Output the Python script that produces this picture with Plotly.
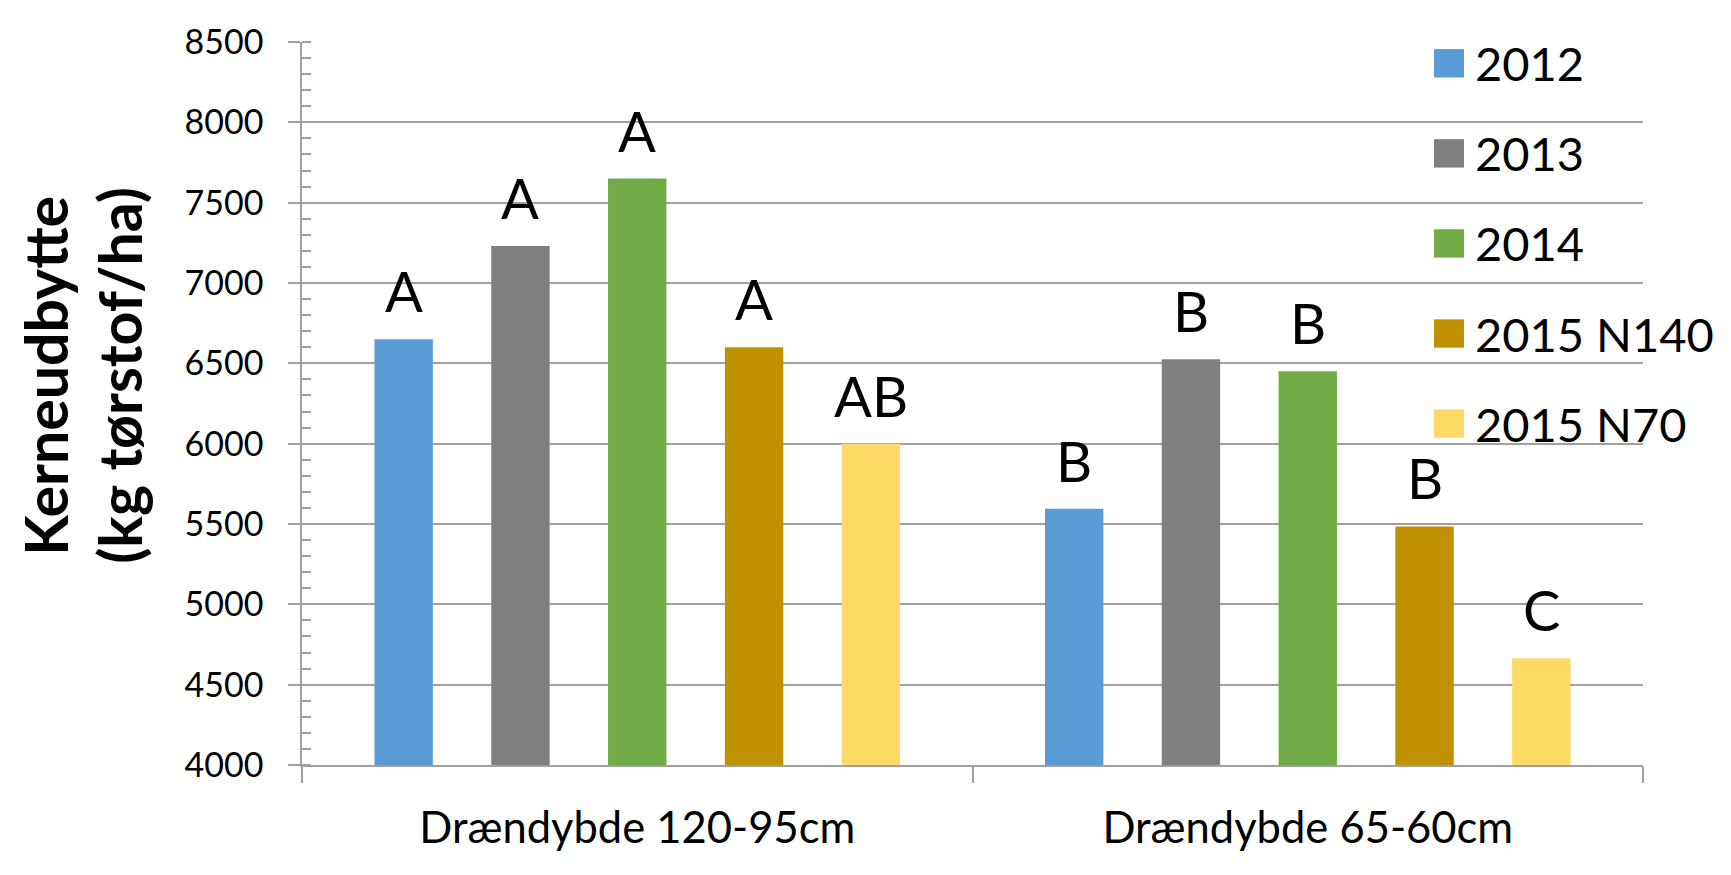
import plotly.graph_objects as go

categories = ["Drændybde 120-95cm", "Drændybde 65-60cm"]
series_names = ["2012", "2013", "2014", "2015 N140", "2015 N70"]
y2012 = [6650, 5595]
y2013 = [7230, 6525]
y2014 = [7650, 6450]
y2015_n140 = [6600, 5485]
y2015_n70 = [6000, 4665]
letters_2012 = ["A", "B"]
letters_2013 = ["A", "B"]
letters_2014 = ["A", "B"]
letters_2015_n140 = ["A", "B"]
letters_2015_n70 = ["AB", "C"]
colors = ["#5B9BD5", "#7F7F7F", "#70AD47", "#BF9000", "#FFD966"]
y_title_lines = ["Kerneudbytte", "(kg tørstof/ha)"]

series_values = [y2012, y2013, y2014, y2015_n140, y2015_n70]
series_letters = [letters_2012, letters_2013, letters_2014, letters_2015_n140, letters_2015_n70]

# the page body has an 8px margin; keep the figure inside the window
OFF = 8
W, H = 1712, 856
PLOT_L, PLOT_R, PLOT_T, PLOT_B = 302, 1643, 25, 789.5   # target screen px
ML = PLOT_L - OFF
MT = PLOT_T - OFF
MR = W - (PLOT_R - OFF)
MB = H - (PLOT_B - OFF)
PW = W - ML - MR
PH = H - MT - MB
BARGAP = 0.129
slot_px = PW / len(categories) * (1 - BARGAP) / len(series_names)


def px_x(sx):
    return (sx - OFF - ML) / PW


def px_y(sy):
    return (H - MB - (sy - OFF)) / PH


FONT = "Lato"
GRID = "#a0a0a0"

fig = go.Figure()
for name, vals, col in zip(series_names, series_values, colors):
    fig.add_trace(go.Bar(name=name, x=categories, y=vals, marker_color=col,
                         marker_line_width=0, showlegend=False))

annotations = []
n = len(series_names)
for i, (vals, lets) in enumerate(zip(series_values, series_letters)):
    for cat, v, t in zip(categories, vals, lets):
        annotations.append(dict(x=cat, y=v, xref="x", yref="y", text=t, showarrow=False,
                                yanchor="bottom", xanchor="center",
                                xshift=(i - (n - 1) / 2) * slot_px, yshift=13,
                                font=dict(family=FONT, size=56, color="black")))

# y-axis title, one annotation per line
for line, cx in zip(y_title_lines, [46, 120]):
    annotations.append(dict(x=px_x(cx), y=px_y(378), xref="paper", yref="paper",
                            text="<b>" + line + "</b>",
                            textangle=-90, showarrow=False, xanchor="center", yanchor="middle",
                            font=dict(family=FONT, size=59, color="black")))

# custom legend (large square swatches)
shapes = []
leg_x0, leg_sw, leg_tx = 1434, 30, 1473
leg_y0, leg_dy = 47.5, 95.25
for k, (name, col) in enumerate(zip(series_names, colors)):
    cy = leg_y0 + k * leg_dy
    shapes.append(dict(type="rect", xref="paper", yref="paper",
                       x0=px_x(leg_x0), x1=px_x(leg_x0 + leg_sw),
                       y0=px_y(cy + leg_sw / 2), y1=px_y(cy - leg_sw / 2),
                       fillcolor=col, line=dict(width=0), layer="above"))
    annotations.append(dict(x=px_x(leg_tx), y=px_y(cy), xref="paper", yref="paper",
                            text=name, showarrow=False, xanchor="left", yanchor="middle",
                            font=dict(family=FONT, size=47, color="black")))

fig.update_layout(
    width=W, height=H, autosize=False,
    margin=dict(l=ML, r=MR, t=MT, b=MB, pad=0),
    paper_bgcolor="white", plot_bgcolor="white",
    barmode="group", bargap=BARGAP, bargroupgap=0.5,
    font=dict(family=FONT, color="black"),
    annotations=annotations, shapes=shapes,
    xaxis=dict(type="category", categoryorder="array", categoryarray=categories,
               showline=True, linecolor=GRID, linewidth=1.5,
               ticks="outside", tickson="boundaries", ticklen=16, tickcolor=GRID, tickwidth=1.5,
               showgrid=False, tickfont=dict(family=FONT, size=43.5, color="black"),
               ticklabelstandoff=24, ticklabeloverflow="allow"),
    yaxis=dict(range=[4000, 8500], dtick=500, tick0=4000,
               showline=True, linecolor=GRID, linewidth=1.5,
               ticks="outside", ticklen=12, tickcolor=GRID, tickwidth=1.5,
               showgrid=True, gridcolor=GRID, gridwidth=1.5, zeroline=False,
               tickfont=dict(family=FONT, size=34, color="black"),
               ticklabelstandoff=18, ticklabeloverflow="allow",
               minor=dict(dtick=100, ticks="inside", ticklen=9, tickcolor=GRID, tickwidth=1.5,
                          showgrid=False)),
)

fig.write_html("out.html")
